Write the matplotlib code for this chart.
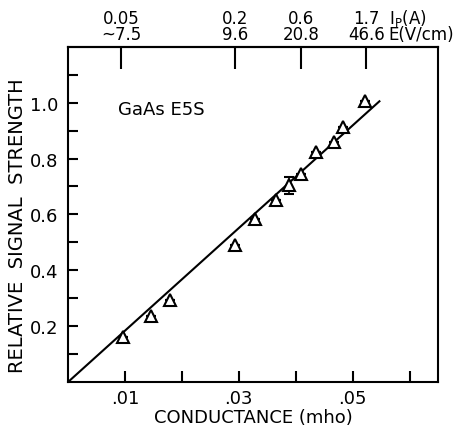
import numpy as np
import matplotlib.pyplot as plt

# measured points: conductance (mho) vs relative signal strength
conductance = [0.0097, 0.0145, 0.0179, 0.0293, 0.0329, 0.0366,
               0.0389, 0.0410, 0.0436, 0.0467, 0.0483, 0.0521]
signal = [0.162, 0.238, 0.295, 0.489, 0.582, 0.650,
          0.704, 0.746, 0.823, 0.859, 0.913, 1.005]
signal_err = [0, 0, 0, 0, 0, 0, 0.03, 0, 0, 0, 0, 0]

# straight-line fit through the origin
fit_x = [0.0, 0.0547]
fit_y = [0.0, 1.005]

# top scale: pulse current and field at selected conductances
top_pos = [0.0093, 0.0293, 0.0410, 0.0524]
top_current = ["0.05", "0.2", "0.6", "1.7"]
top_field = ["~7.5", "9.6", "20.8", "46.6"]

x_ticks = [0.01, 0.02, 0.03, 0.04, 0.05, 0.06]
x_labels = [".01", "", ".03", "", ".05", ""]
y_ticks = [0.1, 0.2, 0.3, 0.4, 0.5, 0.6, 0.7, 0.8, 0.9, 1.0, 1.1]
y_labels = ["", "0.2", "", "0.4", "", "0.6", "", "0.8", "", "1.0", ""]

plt.rcParams['font.family'] = ['DejaVu Sans']
fig = plt.figure(figsize=(4.66, 4.27), dpi=100)
ax = fig.add_axes([0.146, 0.103, 0.794, 0.785])

ax.plot(fit_x, fit_y, color='black', linewidth=1.5)
ax.errorbar(conductance, signal, yerr=signal_err, fmt='^', color='black',
            markerfacecolor='white', markersize=9, markeredgewidth=1.5,
            elinewidth=1.2, capsize=3.5, capthick=1.2, zorder=3)

ax.set_xlim(0, 0.065)
ax.set_ylim(0, 1.2)
ax.set_xticks(x_ticks)
ax.set_xticklabels(x_labels, fontsize=13)
ax.set_yticks(y_ticks)
ax.set_yticklabels(y_labels, fontsize=13)
ax.tick_params(axis='x', direction='in', length=8, width=1.5, pad=5)
ax.tick_params(axis='y', direction='in', length=7, width=1.5, pad=7)
for s in ax.spines.values():
    s.set_linewidth(1.5)

ax.set_xlabel("CONDUCTANCE (mho)", fontsize=13, labelpad=1)
ax.set_ylabel("RELATIVE  SIGNAL  STRENGTH", fontsize=14)
ax.yaxis.set_label_coords(-0.11, 0.47)

ax.text(0.0088, 0.978, "GaAs E5S", fontsize=13, va='center', ha='left')

top = ax.secondary_xaxis('top')
top.set_xticks(top_pos)
top.set_xticklabels([c + "\n" + f for c, f in zip(top_current, top_field)],
                    fontsize=12, linespacing=0.8)
top.tick_params(direction='in', length=16, width=1.5, pad=3)
top.spines['top'].set_linewidth(1.5)

ax.text(0.0563, 1.212, r"I$_\mathregular{P}$(A)" + "\n" + "E(V/cm)",
        fontsize=12, ha='left', va='bottom', linespacing=0.8,
        clip_on=False)

plt.savefig("out.png", dpi=100)
